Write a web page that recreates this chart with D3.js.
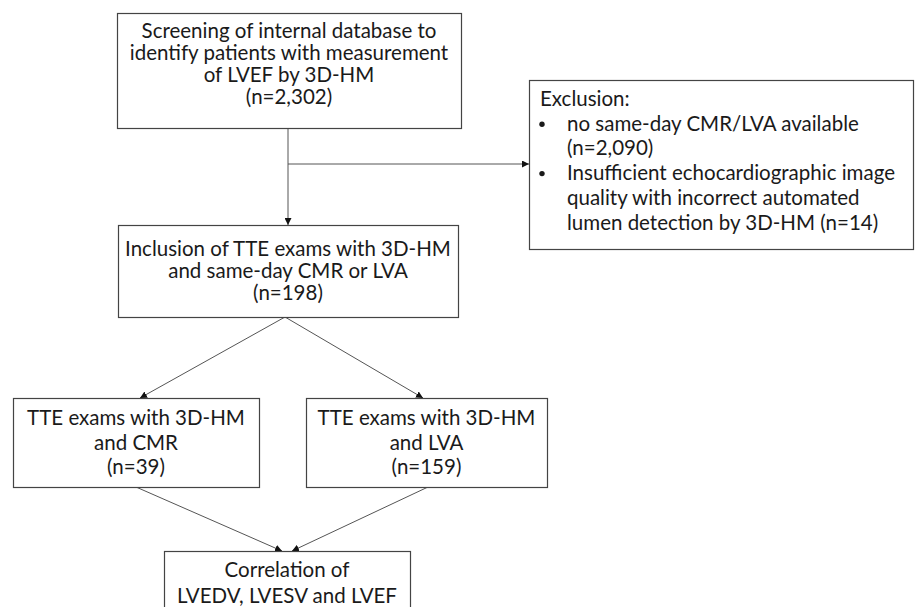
<!DOCTYPE html>
<html>
<head>
<meta charset="utf-8">
<script src="https://cdn.jsdelivr.net/npm/d3@7"></script>
<style>
  body { margin: 0; background: #fff; }
  svg text { font-family: Lato, "Open Sans", sans-serif; fill: #1a1a1a; }
</style>
</head>
<body>
<svg id="chart" width="917" height="607"></svg>
<script>
// box texts
var screeningLines = ["Screening of internal database to", "identify patients with measurement", "of LVEF by 3D-HM", "(n=2,302)"];
var inclusionLines = ["Inclusion of TTE exams with 3D-HM", "and same-day CMR or LVA", "(n=198)"];
var cmrLines = ["TTE exams with 3D-HM", "and CMR", "(n=39)"];
var lvaLines = ["TTE exams with 3D-HM", "and LVA", "(n=159)"];
var correlationLines = ["Correlation of", "LVEDV, LVESV and LVEF"];
var exclusionTitle = "Exclusion:";
var exclusionBullets = [
    ["no same-day CMR/LVA available", "(n=2,090)"],
    ["Insufficient echocardiographic image", "quality with incorrect automated", "lumen detection by 3D-HM (n=14)"]
];

// layout (pixels); top = first baseline below box top
var layout = {
    screening:   {x0: 117, y0: 13,  x1: 461, y1: 128, lines: screeningLines,   lineH: 22,   top: 25},
    inclusion:   {x0: 118, y0: 225, x1: 458, y1: 317, lines: inclusionLines,   lineH: 22,   top: 31},
    cmr:         {x0: 13,  y0: 398, x1: 259, y1: 487, lines: cmrLines,         lineH: 24.5, top: 27},
    lva:         {x0: 306, y0: 398, x1: 547, y1: 487, lines: lvaLines,         lineH: 24.5, top: 27},
    correlation: {x0: 164, y0: 551, x1: 410, y1: 640, lines: correlationLines, lineH: 26,   top: 26},
    exclusion:   {x0: 529, y0: 80,  x1: 913, y1: 249}
};

var fontSize = 20.5;
var svg = d3.select("#chart");

svg.append("defs").append("marker")
    .attr("id", "arrow")
    .attr("viewBox", "0 0 10 10")
    .attr("refX", 10)
    .attr("refY", 5)
    .attr("markerWidth", 7)
    .attr("markerHeight", 7)
    .attr("markerUnits", "userSpaceOnUse")
    .attr("orient", "auto")
    .append("path")
    .attr("d", "M0,0 L10,5 L0,10 z")
    .attr("fill", "#111");

/*
 *** Draw a box with centred lines
 */
function drawBox(b){
    svg.append("rect")
        .attr("x", b.x0 + 0.5).attr("y", b.y0 + 0.5)
        .attr("width", b.x1 - b.x0).attr("height", b.y1 - b.y0)
        .attr("fill", "#fff").attr("stroke", "#444").attr("stroke-width", 1.2);
    if(!b.lines) return;
    var cx = (b.x0 + b.x1) / 2;
    svg.selectAll(null)
        .data(b.lines)
        .enter().append("text")
        .attr("x", cx)
        .attr("y", function(d, i){ return b.y0 + b.top + i * b.lineH; })
        .attr("text-anchor", "middle")
        .attr("font-size", fontSize + "px")
        .text(function(d){ return d; });
}

function link(x1, y1, x2, y2){
    svg.append("line")
        .attr("x1", x1).attr("y1", y1).attr("x2", x2).attr("y2", y2)
        .attr("stroke", "#555").attr("stroke-width", 1)
        .attr("marker-end", "url(#arrow)");
}

// connectors
var sx = 288;
svg.append("line")
    .attr("x1", sx).attr("y1", layout.screening.y1).attr("x2", sx).attr("y2", layout.inclusion.y0)
    .attr("stroke", "#555").attr("marker-end", "url(#arrow)");
link(sx, 164, layout.exclusion.x0, 164);
link(285, layout.inclusion.y1, 140, layout.cmr.y0);
link(285, layout.inclusion.y1, 423, layout.lva.y0);
link(136, layout.cmr.y1, 282, layout.correlation.y0);
link(428, layout.lva.y1, 292, layout.correlation.y0);

["screening", "inclusion", "cmr", "lva", "correlation"].forEach(function(k){ drawBox(layout[k]); });

// exclusion box
var ex = layout.exclusion;
drawBox(ex);
var exLineH = 24.7;
svg.append("text")
    .attr("x", ex.x0 + 11).attr("y", ex.y0 + 26)
    .attr("font-size", fontSize + "px")
    .text(exclusionTitle);
var row = 1;
exclusionBullets.forEach(function(item){
    svg.append("circle")
        .attr("cx", ex.x0 + 13).attr("cy", ex.y0 + 26 + row * exLineH - 6.5)
        .attr("r", 2.7).attr("fill", "#1a1a1a");
    item.forEach(function(line){
        svg.append("text")
            .attr("x", ex.x0 + 38).attr("y", ex.y0 + 26 + row * exLineH)
            .attr("font-size", fontSize + "px")
            .text(line);
        row++;
    });
});
</script>
</body>
</html>
